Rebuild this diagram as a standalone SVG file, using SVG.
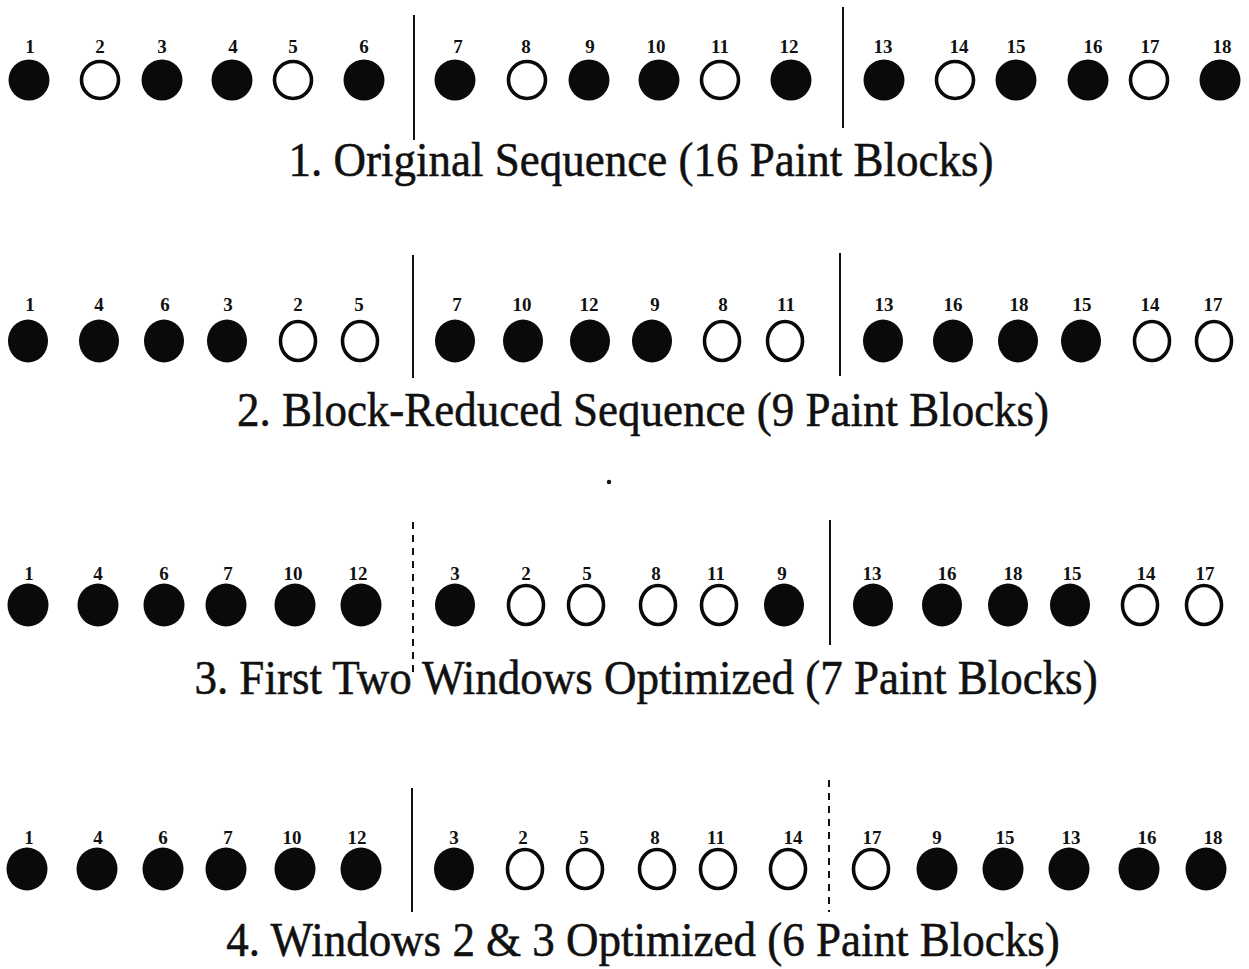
<svg xmlns="http://www.w3.org/2000/svg" width="1249" height="969" viewBox="0 0 1249 969">
<style>
.f{fill:#0a0a0a}
.o{fill:#fff;stroke:#0a0a0a;stroke-width:3.6}
.n{font-family:"Liberation Serif","Times New Roman",serif;font-size:19px;font-weight:bold;text-anchor:middle;fill:#111}
.t{font-family:"Liberation Serif","Times New Roman",serif;font-size:45px;text-anchor:middle;fill:#111;stroke:#111;stroke-width:0.5}
.d{stroke:#111;stroke-width:2;fill:none}
.dash{stroke-dasharray:7 6}
</style>
<rect width="1249" height="969" fill="#fff"/>

<!-- Row 1 -->
<g id="row1">
<g id="r1-1"><circle class="f" cx="29" cy="80" r="20.5"/><text class="n" x="30" y="53">1</text></g>
<g id="r1-2"><circle class="o" cx="100" cy="80" r="18.5"/><text class="n" x="100" y="53">2</text></g>
<g id="r1-3"><circle class="f" cx="162" cy="80" r="20.5"/><text class="n" x="162" y="53">3</text></g>
<g id="r1-4"><circle class="f" cx="232" cy="80" r="20.5"/><text class="n" x="233" y="53">4</text></g>
<g id="r1-5"><circle class="o" cx="293" cy="80" r="18.5"/><text class="n" x="293" y="53">5</text></g>
<g id="r1-6"><circle class="f" cx="364" cy="80" r="20.5"/><text class="n" x="364" y="53">6</text></g>
<g id="r1-7"><circle class="f" cx="455" cy="80" r="20.5"/><text class="n" x="458" y="53">7</text></g>
<g id="r1-8"><circle class="o" cx="527" cy="80" r="18.5"/><text class="n" x="526" y="53">8</text></g>
<g id="r1-9"><circle class="f" cx="589" cy="80" r="20.5"/><text class="n" x="590" y="53">9</text></g>
<g id="r1-10"><circle class="f" cx="659" cy="80" r="20.5"/><text class="n" x="656" y="53">10</text></g>
<g id="r1-11"><circle class="o" cx="720" cy="80" r="18.5"/><text class="n" x="720" y="53">11</text></g>
<g id="r1-12"><circle class="f" cx="791" cy="80" r="20.5"/><text class="n" x="789" y="53">12</text></g>
<g id="r1-13"><circle class="f" cx="884" cy="80" r="20.5"/><text class="n" x="883" y="53">13</text></g>
<g id="r1-14"><circle class="o" cx="955" cy="80" r="18.5"/><text class="n" x="959" y="53">14</text></g>
<g id="r1-15"><circle class="f" cx="1016" cy="80" r="20.5"/><text class="n" x="1016" y="53">15</text></g>
<g id="r1-16"><circle class="f" cx="1088" cy="80" r="20.5"/><text class="n" x="1093" y="53">16</text></g>
<g id="r1-17"><circle class="o" cx="1149" cy="80" r="18.5"/><text class="n" x="1150" y="53">17</text></g>
<g id="r1-18"><circle class="f" cx="1220" cy="80" r="20.5"/><text class="n" x="1222" y="53">18</text></g>
<text class="t" transform="translate(641 176) scale(1 1.08)">1. Original Sequence (16 Paint Blocks)</text>
</g>

<!-- Row 2 -->
<g id="row2">
<g id="r2-1"><ellipse class="f" cx="28" cy="341" rx="20" ry="21.5"/><text class="n" x="30" y="311">1</text></g>
<g id="r2-4"><ellipse class="f" cx="99" cy="341" rx="20" ry="21.5"/><text class="n" x="99" y="311">4</text></g>
<g id="r2-6"><ellipse class="f" cx="164" cy="341" rx="20" ry="21.5"/><text class="n" x="165" y="311">6</text></g>
<g id="r2-3"><ellipse class="f" cx="227" cy="341" rx="20" ry="21.5"/><text class="n" x="228" y="311">3</text></g>
<g id="r2-2"><ellipse class="o" cx="298" cy="341" rx="17.5" ry="19.5"/><text class="n" x="298" y="311">2</text></g>
<g id="r2-5"><ellipse class="o" cx="360" cy="341" rx="17.5" ry="19.5"/><text class="n" x="359" y="311">5</text></g>
<g id="r2-7"><ellipse class="f" cx="455" cy="341" rx="20" ry="21.5"/><text class="n" x="457" y="311">7</text></g>
<g id="r2-10"><ellipse class="f" cx="523" cy="341" rx="20" ry="21.5"/><text class="n" x="522" y="311">10</text></g>
<g id="r2-12"><ellipse class="f" cx="590" cy="341" rx="20" ry="21.5"/><text class="n" x="589" y="311">12</text></g>
<g id="r2-9"><ellipse class="f" cx="652" cy="341" rx="20" ry="21.5"/><text class="n" x="655" y="311">9</text></g>
<g id="r2-8"><ellipse class="o" cx="722" cy="341" rx="17.5" ry="19.5"/><text class="n" x="723" y="311">8</text></g>
<g id="r2-11"><ellipse class="o" cx="785" cy="341" rx="17.5" ry="19.5"/><text class="n" x="786" y="311">11</text></g>
<g id="r2-13"><ellipse class="f" cx="883" cy="341" rx="20" ry="21.5"/><text class="n" x="884" y="311">13</text></g>
<g id="r2-16"><ellipse class="f" cx="953" cy="341" rx="20" ry="21.5"/><text class="n" x="953" y="311">16</text></g>
<g id="r2-18"><ellipse class="f" cx="1018" cy="341" rx="20" ry="21.5"/><text class="n" x="1019" y="311">18</text></g>
<g id="r2-15"><ellipse class="f" cx="1081" cy="341" rx="20" ry="21.5"/><text class="n" x="1082" y="311">15</text></g>
<g id="r2-14"><ellipse class="o" cx="1152" cy="341" rx="17.5" ry="19.5"/><text class="n" x="1150" y="311">14</text></g>
<g id="r2-17"><ellipse class="o" cx="1214" cy="341" rx="17.5" ry="19.5"/><text class="n" x="1213" y="311">17</text></g>
<text class="t" transform="translate(643 426) scale(1 1.08)">2. Block-Reduced Sequence (9 Paint Blocks)</text>
</g>

<circle id="speck" cx="609" cy="482" r="2.2" fill="#111"/>

<!-- Row 3 -->
<g id="row3">
<g id="r3-1"><ellipse class="f" cx="28" cy="605" rx="20.5" ry="21.5"/><text class="n" x="29" y="580">1</text></g>
<g id="r3-4"><ellipse class="f" cx="98" cy="605" rx="20.5" ry="21.5"/><text class="n" x="98" y="580">4</text></g>
<g id="r3-6"><ellipse class="f" cx="164" cy="605" rx="20.5" ry="21.5"/><text class="n" x="164" y="580">6</text></g>
<g id="r3-7"><ellipse class="f" cx="226" cy="605" rx="20.5" ry="21.5"/><text class="n" x="228" y="580">7</text></g>
<g id="r3-10"><ellipse class="f" cx="295" cy="605" rx="20.5" ry="21.5"/><text class="n" x="293" y="580">10</text></g>
<g id="r3-12"><ellipse class="f" cx="361" cy="605" rx="20.5" ry="21.5"/><text class="n" x="358" y="580">12</text></g>
<g id="r3-3"><ellipse class="f" cx="455" cy="605" rx="20" ry="21.5"/><text class="n" x="455" y="580">3</text></g>
<g id="r3-2"><ellipse class="o" cx="526" cy="605" rx="17.5" ry="19.5"/><text class="n" x="526" y="580">2</text></g>
<g id="r3-5"><ellipse class="o" cx="586" cy="605" rx="17.5" ry="19.5"/><text class="n" x="587" y="580">5</text></g>
<g id="r3-8"><ellipse class="o" cx="658" cy="605" rx="17.5" ry="19.5"/><text class="n" x="656" y="580">8</text></g>
<g id="r3-11"><ellipse class="o" cx="719" cy="605" rx="17.5" ry="19.5"/><text class="n" x="716" y="580">11</text></g>
<g id="r3-9"><ellipse class="f" cx="784" cy="605" rx="20" ry="21.5"/><text class="n" x="782" y="580">9</text></g>
<g id="r3-13"><ellipse class="f" cx="873" cy="605" rx="20" ry="21.5"/><text class="n" x="872" y="580">13</text></g>
<g id="r3-16"><ellipse class="f" cx="942" cy="605" rx="20" ry="21.5"/><text class="n" x="947" y="580">16</text></g>
<g id="r3-18"><ellipse class="f" cx="1008" cy="605" rx="20" ry="21.5"/><text class="n" x="1013" y="580">18</text></g>
<g id="r3-15"><ellipse class="f" cx="1070" cy="605" rx="20" ry="21.5"/><text class="n" x="1072" y="580">15</text></g>
<g id="r3-14"><ellipse class="o" cx="1140" cy="605" rx="17.5" ry="19.5"/><text class="n" x="1146" y="580">14</text></g>
<g id="r3-17"><ellipse class="o" cx="1204" cy="605" rx="17.5" ry="19.5"/><text class="n" x="1205" y="580">17</text></g>
<text class="t" transform="translate(646 694) scale(1 1.08)">3. First Two Windows Optimized (7 Paint Blocks)</text>
</g>

<!-- Row 4 -->
<g id="row4">
<g id="r4-1"><ellipse class="f" cx="27" cy="869" rx="20.5" ry="21.5"/><text class="n" x="29" y="844">1</text></g>
<g id="r4-4"><ellipse class="f" cx="97" cy="869" rx="20.5" ry="21.5"/><text class="n" x="98" y="844">4</text></g>
<g id="r4-6"><ellipse class="f" cx="163" cy="869" rx="20.5" ry="21.5"/><text class="n" x="163" y="844">6</text></g>
<g id="r4-7"><ellipse class="f" cx="226" cy="869" rx="20.5" ry="21.5"/><text class="n" x="228" y="844">7</text></g>
<g id="r4-10"><ellipse class="f" cx="295" cy="869" rx="20.5" ry="21.5"/><text class="n" x="292" y="844">10</text></g>
<g id="r4-12"><ellipse class="f" cx="361" cy="869" rx="20.5" ry="21.5"/><text class="n" x="357" y="844">12</text></g>
<g id="r4-3"><ellipse class="f" cx="454" cy="869" rx="20" ry="21.5"/><text class="n" x="454" y="844">3</text></g>
<g id="r4-2"><ellipse class="o" cx="525" cy="869" rx="17.5" ry="19.5"/><text class="n" x="523" y="844">2</text></g>
<g id="r4-5"><ellipse class="o" cx="585" cy="869" rx="17.5" ry="19.5"/><text class="n" x="584" y="844">5</text></g>
<g id="r4-8"><ellipse class="o" cx="657" cy="869" rx="17.5" ry="19.5"/><text class="n" x="655" y="844">8</text></g>
<g id="r4-11"><ellipse class="o" cx="718" cy="869" rx="17.5" ry="19.5"/><text class="n" x="716" y="844">11</text></g>
<g id="r4-14"><ellipse class="o" cx="788" cy="869" rx="17.5" ry="19.5"/><text class="n" x="793" y="844">14</text></g>
<g id="r4-17"><ellipse class="o" cx="871" cy="869" rx="17.5" ry="19.5"/><text class="n" x="872" y="844">17</text></g>
<g id="r4-9"><ellipse class="f" cx="937" cy="869" rx="20.5" ry="21.5"/><text class="n" x="937" y="844">9</text></g>
<g id="r4-15"><ellipse class="f" cx="1003" cy="869" rx="20.5" ry="21.5"/><text class="n" x="1005" y="844">15</text></g>
<g id="r4-13"><ellipse class="f" cx="1069" cy="869" rx="20.5" ry="21.5"/><text class="n" x="1071" y="844">13</text></g>
<g id="r4-16"><ellipse class="f" cx="1139" cy="869" rx="20.5" ry="21.5"/><text class="n" x="1147" y="844">16</text></g>
<g id="r4-18"><ellipse class="f" cx="1206" cy="869" rx="20.5" ry="21.5"/><text class="n" x="1213" y="844">18</text></g>
<text class="t" transform="translate(643 956) scale(1 1.08)">4. Windows 2 &amp; 3 Optimized (6 Paint Blocks)</text>
</g>

<!-- Window dividers -->
<g id="connectors">
<line class="d" x1="414" y1="15" x2="414" y2="140"/>
<line class="d" x1="843" y1="7" x2="843" y2="128"/>
<line class="d" x1="413" y1="255" x2="413" y2="378"/>
<line class="d" x1="840" y1="253" x2="840" y2="376"/>
<line class="d dash" x1="413" y1="522" x2="413" y2="672"/>
<line class="d" x1="830" y1="520" x2="830" y2="645"/>
<line class="d" x1="412" y1="788" x2="412" y2="912"/>
<line class="d dash" x1="829" y1="780" x2="829" y2="912"/>
</g>
</svg>
